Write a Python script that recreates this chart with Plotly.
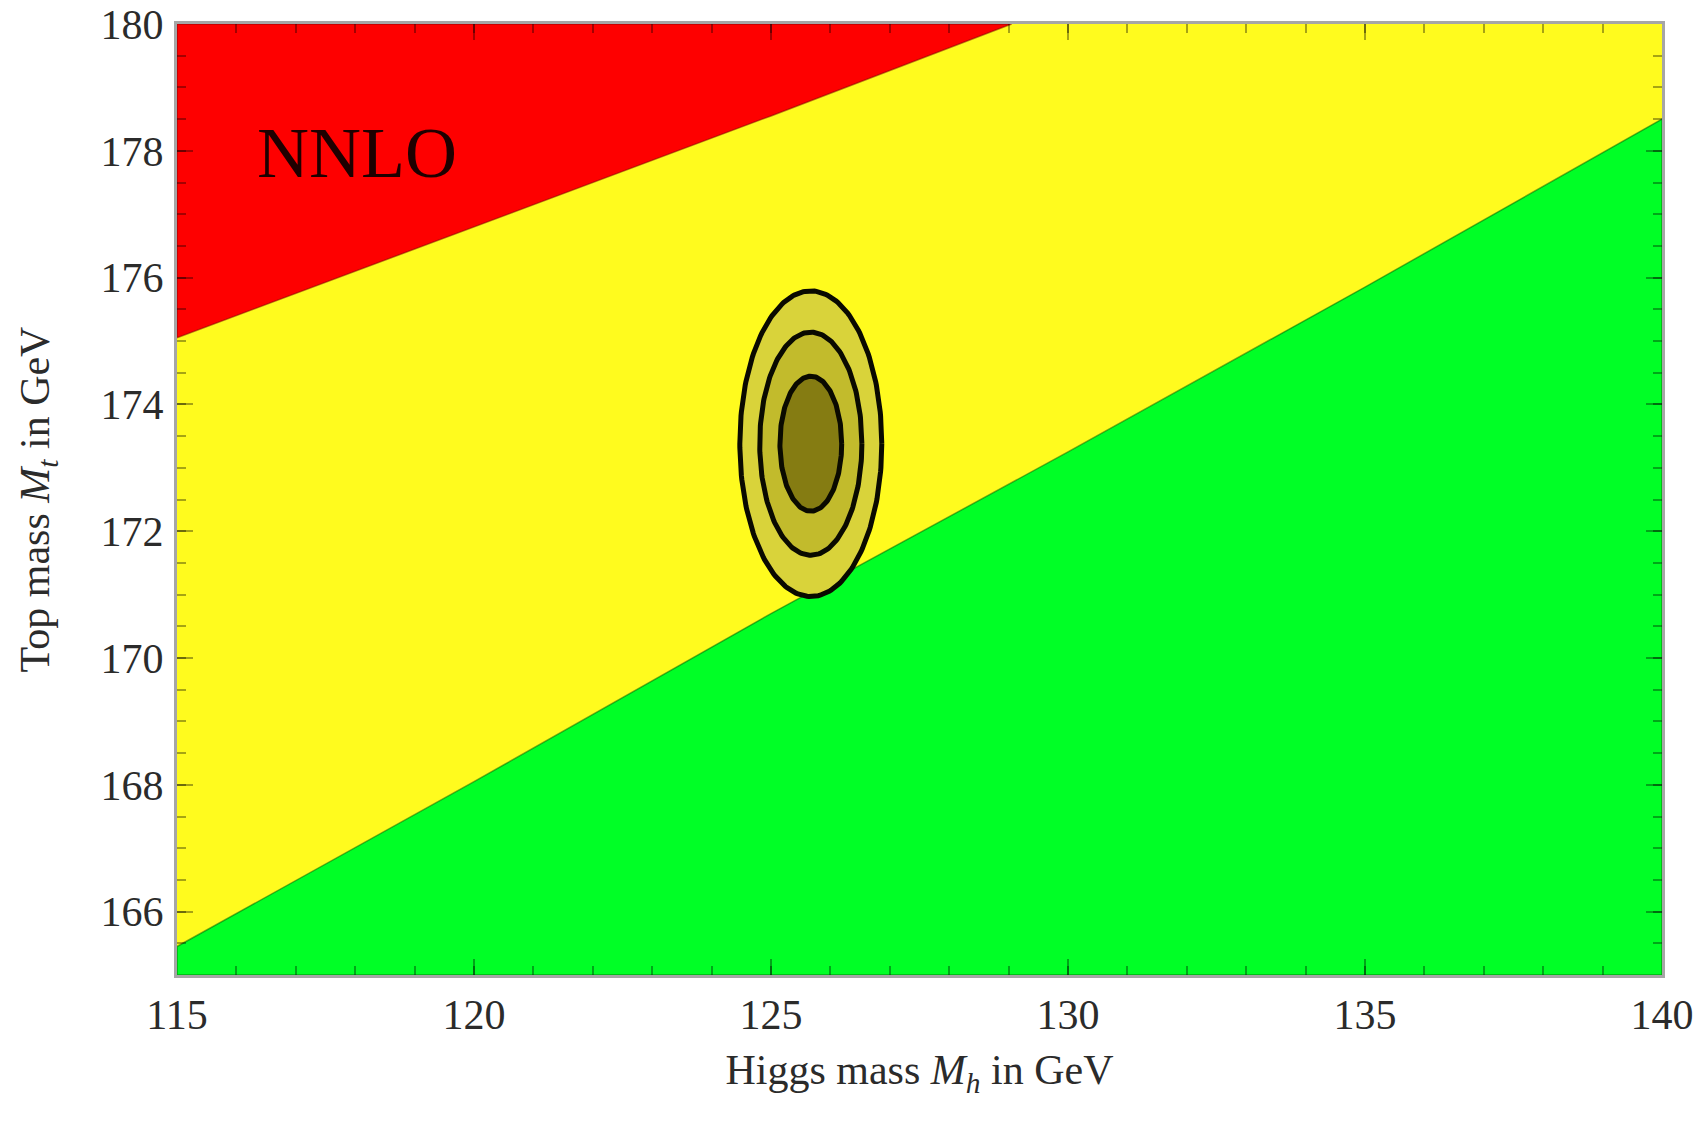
import numpy as np
import plotly.graph_objects as go

# Region boundaries in the (M_h, M_t) plane, GeV
red_boundary_mh = [115.0, 120.0, 125.0, 129.05]
red_boundary_mt = [175.05, 176.8, 178.55, 180.0]

green_boundary_mh = [115.0, 120.0, 125.0, 130.0, 135.0, 140.0]
green_boundary_mt = [165.45, 168.05, 170.7, 173.25, 175.85, 178.5]

# Measured (M_h, M_t) with 1, 2, 3 sigma contours (semi-axes in GeV)
center_mh = 125.67
center_mt = 173.38
ellipse_semi_mh = [1.195, 0.86, 0.52]
ellipse_semi_mt = [2.41, 1.76, 1.065]
ellipse_fills = ["#d9d33a", "#c2bb2c", "#857c12"]

x_range = [115, 140]
y_range = [165, 180]
x_ticks = [115, 120, 125, 130, 135, 140]
y_ticks = [166, 168, 170, 172, 174, 176, 178, 180]

RED = "#fe0000"
YELLOW = "#fffb1e"
GREEN = "#00ff26"
FRAME = "rgba(0,0,0,0.35)"
FONT = "Liberation Serif"

fig = go.Figure()

# yellow background band (whole plot area)
fig.add_trace(go.Scatter(
    x=[x_range[0], x_range[1], x_range[1], x_range[0], x_range[0]],
    y=[y_range[0], y_range[0], y_range[1], y_range[1], y_range[0]],
    fill="toself", fillcolor=YELLOW, mode="lines", line=dict(width=0),
    hoverinfo="skip", showlegend=False))

# red (NNLO instability) region: above the red boundary
fig.add_trace(go.Scatter(
    x=red_boundary_mh + [x_range[0], x_range[0]],
    y=red_boundary_mt + [y_range[1], red_boundary_mt[0]],
    fill="toself", fillcolor=RED, mode="lines",
    line=dict(width=1.5, color="rgba(120,0,0,0.5)"),
    hoverinfo="skip", showlegend=False))

# green (stability) region: below the green boundary
fig.add_trace(go.Scatter(
    x=green_boundary_mh + [x_range[1], x_range[0], x_range[0]],
    y=green_boundary_mt + [y_range[0], y_range[0], green_boundary_mt[0]],
    fill="toself", fillcolor=GREEN, mode="lines",
    line=dict(width=1.5, color="rgba(0,90,0,0.5)"),
    hoverinfo="skip", showlegend=False))

# confidence ellipses, largest first
t = np.linspace(0, 2 * np.pi, 241)
for a, b, col in zip(ellipse_semi_mh, ellipse_semi_mt, ellipse_fills):
    fig.add_trace(go.Scatter(
        x=center_mh + a * np.cos(t), y=center_mt + b * np.sin(t),
        fill="toself", fillcolor=col, mode="lines",
        line=dict(color="#0a0a00", width=5),
        hoverinfo="skip", showlegend=False))

fig.add_annotation(x=118.03, y=177.96, text="NNLO", showarrow=False,
                   font=dict(family=FONT, size=72, color="#1e0000"))

axis_common = dict(
    showgrid=False, zeroline=False, showline=True, mirror="allticks",
    linecolor=FRAME, linewidth=3, ticks="inside", ticklen=16, tickwidth=2,
    tickcolor=FRAME, tickfont=dict(family=FONT, size=42, color="#2b2b2b"),
    layer="above traces", automargin=False,
)

fig.update_xaxes(
    range=x_range, tickvals=x_ticks, ticktext=[str(v) for v in x_ticks],
    minor=dict(dtick=1, tick0=115, ticks="inside", ticklen=9,
               tickcolor=FRAME, tickwidth=2),
    title=dict(text="Higgs mass <i>M</i><sub><i>h</i></sub> in GeV",
               font=dict(family=FONT, size=42, color="#2b2b2b"), standoff=18),
    ticklabelstandoff=1,
    **axis_common)

fig.update_yaxes(
    range=y_range, tickvals=y_ticks, ticktext=[str(v) for v in y_ticks],
    minor=dict(dtick=0.5, tick0=165, ticks="inside", ticklen=9,
               tickcolor=FRAME, tickwidth=2),
    title=dict(text="Top mass <i>M</i><sub><i>t</i></sub> in GeV",
               font=dict(family=FONT, size=42, color="#2b2b2b"), standoff=38),
    ticklabelstandoff=2,
    **axis_common)

fig.update_layout(
    width=1702, height=1127,
    margin=dict(l=177, r=40, t=24, b=152),
    paper_bgcolor="white", plot_bgcolor="white",
)

fig.write_html("out.html")
